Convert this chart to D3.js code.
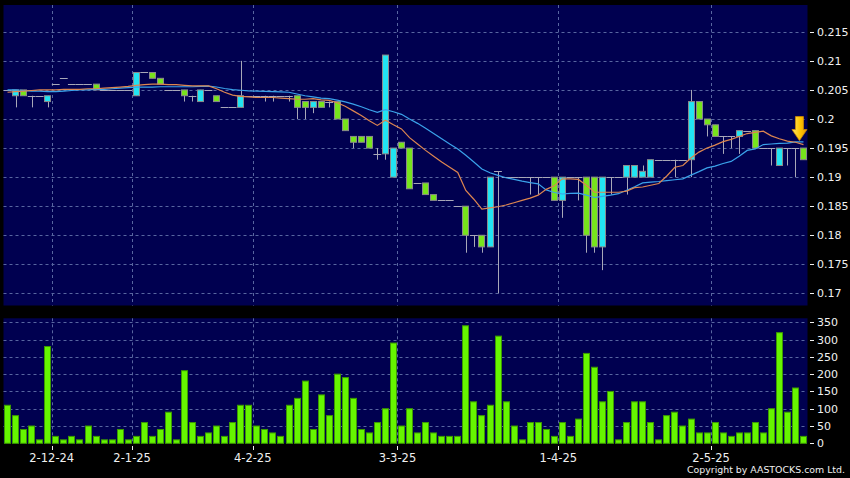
<!DOCTYPE html>
<html><head><meta charset="utf-8">
<script src="https://cdn.jsdelivr.net/npm/d3@7"></script>
<style>html,body{margin:0;padding:0;background:#000;}svg{display:block;}</style>
</head><body>
<svg id="c" width="850" height="478"></svg>
<script>
// ---- data ----
const tickIdx = [5, 15, 30, 48, 68, 87];
const tickLabels = ["2-12-24", "2-1-25", "4-2-25", "3-3-25", "1-4-25", "2-5-25"];
const priceTicks = [0.17, 0.175, 0.18, 0.185, 0.19, 0.195, 0.2, 0.205, 0.21, 0.215];
const priceTickLabels = ["0.17", "0.175", "0.18", "0.185", "0.19", "0.195", "0.2", "0.205", "0.21", "0.215"];
const volTicks = [0, 50, 100, 150, 200, 250, 300, 350];

const open = [0.205,0.204,0.205,0.204,0.204,0.203,0.206,0.207,0.206,0.206,
0.206,0.206,0.205,0.205,0.205,0.205,0.204,0.208,0.208,0.207,
0.205,0.205,0.205,0.204,0.203,0.205,0.204,0.202,0.202,0.202,
0.204,0.204,0.204,0.204,0.204,0.204,0.204,0.203,0.202,0.203,
0.203,0.203,0.200,0.197,0.197,0.197,0.194,0.194,0.190,0.196,
0.195,0.189,0.189,0.187,0.186,0.186,0.185,0.185,0.180,0.180,
0.178,0.191,0.190,0.190,0.190,0.190,0.190,0.190,0.190,0.186,
0.190,0.190,0.190,0.190,0.178,0.190,0.190,0.190,0.190,0.190,
0.190,0.193,0.193,0.193,0.193,0.193,0.203,0.200,0.199,0.197,
0.197,0.197,0.198,0.198,0.195,0.195,0.192,0.195,0.195,0.195];
const high = [0.205,0.205,0.205,0.204,0.204,0.204,0.206,0.207,0.206,0.206,
0.206,0.206,0.205,0.205,0.205,0.205,0.208,0.208,0.208,0.207,
0.205,0.205,0.205,0.204,0.205,0.205,0.204,0.202,0.202,0.210,
0.204,0.204,0.204,0.204,0.204,0.204,0.204,0.203,0.203,0.203,
0.203,0.203,0.200,0.197,0.197,0.197,0.195,0.211,0.195,0.196,
0.195,0.189,0.189,0.187,0.186,0.186,0.185,0.185,0.180,0.180,
0.190,0.191,0.190,0.190,0.190,0.190,0.190,0.190,0.190,0.190,
0.190,0.190,0.190,0.190,0.190,0.190,0.190,0.192,0.192,0.192,
0.193,0.193,0.193,0.193,0.193,0.205,0.203,0.200,0.199,0.197,
0.197,0.198,0.198,0.198,0.195,0.195,0.195,0.195,0.195,0.195];
const low = [0.205,0.202,0.204,0.202,0.204,0.202,0.206,0.207,0.206,0.206,
0.206,0.205,0.205,0.205,0.205,0.205,0.204,0.208,0.207,0.206,
0.205,0.205,0.203,0.203,0.203,0.205,0.203,0.202,0.202,0.202,
0.204,0.204,0.203,0.203,0.204,0.203,0.200,0.200,0.201,0.202,
0.202,0.200,0.198,0.195,0.196,0.195,0.193,0.193,0.190,0.195,
0.188,0.189,0.187,0.186,0.186,0.186,0.185,0.177,0.178,0.177,
0.178,0.170,0.190,0.190,0.190,0.187,0.187,0.190,0.186,0.183,
0.190,0.186,0.177,0.177,0.174,0.187,0.190,0.187,0.190,0.190,
0.190,0.193,0.193,0.190,0.193,0.190,0.200,0.197,0.197,0.194,
0.195,0.194,0.198,0.195,0.195,0.192,0.192,0.192,0.190,0.193];
const close = [0.205,0.205,0.204,0.204,0.204,0.204,0.206,0.207,0.206,0.206,
0.206,0.205,0.205,0.205,0.205,0.205,0.208,0.208,0.207,0.206,
0.205,0.205,0.204,0.204,0.205,0.205,0.203,0.202,0.202,0.204,
0.204,0.204,0.204,0.204,0.204,0.204,0.202,0.202,0.203,0.202,
0.203,0.200,0.198,0.196,0.196,0.195,0.194,0.211,0.195,0.195,
0.188,0.189,0.187,0.186,0.186,0.186,0.185,0.180,0.180,0.178,
0.190,0.191,0.190,0.190,0.190,0.190,0.190,0.190,0.186,0.190,
0.190,0.190,0.180,0.178,0.190,0.190,0.190,0.192,0.192,0.191,
0.193,0.193,0.193,0.193,0.193,0.203,0.200,0.199,0.197,0.197,
0.197,0.198,0.198,0.195,0.195,0.195,0.195,0.195,0.195,0.193];
const volume = [110,80,40,50,10,280,20,10,20,10,
50,20,10,10,40,10,20,60,20,40,
90,10,210,60,20,30,50,20,60,110,
110,50,40,30,20,110,130,180,40,140,
80,200,190,130,40,30,60,100,290,50,
100,30,60,30,20,20,20,340,120,80,
110,310,120,50,10,60,60,40,20,60,
20,70,260,220,120,150,10,60,120,120,
60,10,80,90,50,70,30,30,60,30,
20,30,30,60,30,100,320,90,160,20];
const ma10 = [0.2046,0.2047,0.2048,0.2049,0.2050,0.2050,0.2050,0.2051,0.2051,0.2051,
0.2052,0.2052,0.2053,0.2054,0.2055,0.2056,0.2058,0.2059,0.2060,0.2060,
0.2059,0.2059,0.2058,0.2057,0.2057,0.2057,0.2052,0.2046,0.2041,0.2039,
0.2038,0.2037,0.2037,0.2037,0.2036,0.2035,0.2034,0.2034,0.2035,0.2033,
0.2032,0.2028,0.2022,0.2014,0.2006,0.1997,0.1989,0.1998,0.1990,0.1983,
0.1968,0.1957,0.1946,0.1936,0.1926,0.1917,0.1908,0.1877,0.1862,0.1845,
0.1847,0.1849,0.1852,0.1856,0.1860,0.1864,0.1869,0.1879,0.1885,0.1897,
0.1897,0.1896,0.1886,0.1874,0.1874,0.1874,0.1874,0.1876,0.1882,0.1883,
0.1886,0.1889,0.1902,0.1917,0.1920,0.1933,0.1943,0.1950,0.1955,0.1961,
0.1965,0.1970,0.1975,0.1977,0.1979,0.1971,0.1966,0.1962,0.1960,0.1956];
const ma20 = [0.2050,0.2050,0.2049,0.2048,0.2048,0.2047,0.2047,0.2048,0.2049,0.2050,
0.2050,0.2051,0.2051,0.2052,0.2053,0.2054,0.2055,0.2055,0.2055,0.20555,
0.20555,0.20555,0.20555,0.20555,0.2056,0.20565,0.2055,0.20525,0.20505,0.20495,
0.20485,0.2048,0.20475,0.2047,0.20465,0.2046,0.2043,0.2040,0.2038,0.2036,
0.2035,0.20325,0.20295,0.20255,0.2021,0.2016,0.20115,0.2016,0.20125,0.2008,
0.2000,0.19925,0.1984,0.1975,0.1966,0.1957,0.19485,0.19375,0.1926,0.1914,
0.19075,0.1903,0.1899,0.1896,0.1893,0.18905,0.18885,0.1878,0.18735,0.1871,
0.1872,0.18725,0.1869,0.1865,0.1867,0.1869,0.18715,0.18775,0.18835,0.1890,
0.18915,0.18925,0.1894,0.18955,0.1897,0.19035,0.19095,0.1916,0.1919,0.19235,
0.1927,0.1936,0.1946,0.19485,0.1956,0.1957,0.1958,0.19585,0.19605,0.19605];

// ---- layout ----
const n = close.length;
const svg = d3.select("#c");
const L = 3.5, R = 807.5;
const mainTop = 5, mainBot = 305.5, volTop = 318.3, volBot = 443.3;
const FONT = "DejaVu Sans, sans-serif";

const x = d3.scaleBand().domain(d3.range(n)).range([L, R]).paddingInner(0.15).paddingOuter(0.075);
const bw = x.bandwidth(), step = x.step();
const y = d3.scaleLinear().domain([0.17, 0.215]).range([293.4, 31.8]);
const yv = d3.scaleLinear().domain([0, 350]).range([volBot, 322.3]);
const gridX = i => x(i) + bw + (step - bw) / 2;

svg.append("rect").attr("width", 850).attr("height", 478).attr("fill", "#000");
svg.append("rect").attr("x", L).attr("y", mainTop).attr("width", R - L).attr("height", mainBot - mainTop).attr("fill", "#000050");
svg.append("rect").attr("x", L).attr("y", volTop).attr("width", R - L).attr("height", volBot - volTop).attr("fill", "#000050");

const gridColor = "#5866a0";
// horizontal grids
svg.append("g").selectAll("line").data(priceTicks).join("line")
  .attr("x1", L).attr("x2", R).attr("y1", d => Math.round(y(d)) + 0.5).attr("y2", d => Math.round(y(d)) + 0.5)
  .attr("stroke", gridColor).attr("stroke-dasharray", "3,3");
svg.append("g").selectAll("line").data(volTicks.filter(v => v > 0)).join("line")
  .attr("x1", L).attr("x2", R).attr("y1", d => Math.round(yv(d)) + 0.5).attr("y2", d => Math.round(yv(d)) + 0.5)
  .attr("stroke", gridColor).attr("stroke-dasharray", "3,3");
// vertical grids
svg.append("g").selectAll("line").data(tickIdx).join("line")
  .attr("x1", d => Math.round(gridX(d)) + 0.5).attr("x2", d => Math.round(gridX(d)) + 0.5)
  .attr("y1", mainTop).attr("y2", mainBot).attr("stroke", gridColor).attr("stroke-dasharray", "3,3");
svg.append("g").selectAll("line").data(tickIdx).join("line")
  .attr("x1", d => Math.round(gridX(d)) + 0.5).attr("x2", d => Math.round(gridX(d)) + 0.5)
  .attr("y1", volTop).attr("y2", volBot).attr("stroke", gridColor).attr("stroke-dasharray", "3,3");

// ---- candles ----
const UP = "#22e4f2", DOWN = "#77e41c", WICK = "#a8a8b8", EDGE = "#8a8a8a";
const idx = d3.range(n);
const cg = svg.append("g");
// wicks
cg.selectAll("line.w").data(idx.filter(i => high[i] > low[i])).join("line").attr("class", "w")
  .attr("x1", i => Math.round(x(i) + bw / 2) + 0.5).attr("x2", i => Math.round(x(i) + bw / 2) + 0.5)
  .attr("y1", i => y(high[i])).attr("y2", i => y(low[i]))
  .attr("stroke", WICK).attr("stroke-width", 1);
// doji lines
cg.selectAll("line.d").data(idx.filter(i => open[i] === close[i])).join("line").attr("class", "d")
  .attr("x1", i => x(i) - 0.5).attr("x2", i => x(i) + bw + 0.5)
  .attr("y1", i => Math.round(y(close[i])) + 0.5).attr("y2", i => Math.round(y(close[i])) + 0.5)
  .attr("stroke", WICK).attr("stroke-width", 1);
// bodies
cg.selectAll("rect").data(idx.filter(i => open[i] !== close[i])).join("rect")
  .attr("x", i => Math.round(x(i)) + 0.5).attr("width", Math.round(bw) - 1)
  .attr("y", i => y(Math.max(open[i], close[i])))
  .attr("height", i => Math.abs(y(open[i]) - y(close[i])))
  .attr("fill", i => close[i] > open[i] ? UP : DOWN)
  .attr("stroke", EDGE).attr("stroke-width", 1);

// ---- moving averages ----
const line = (arr) => d3.line().x((d, i) => x(i) + bw / 2).y(d => y(d))(arr);
svg.append("path").attr("d", line(ma20)).attr("fill", "none").attr("stroke", "#3aa2ea").attr("stroke-width", 1.2);
svg.append("path").attr("d", line(ma10)).attr("fill", "none").attr("stroke", "#dd8650").attr("stroke-width", 1.2);

// ---- arrow marker on last bar ----
const ax = gridX(n - 2), atip = y(ma10[n - 1]) - 4;
const defs = svg.append("defs");
const grad = defs.append("linearGradient").attr("id", "ag").attr("x1", 0).attr("x2", 1).attr("y1", 0).attr("y2", 0);
grad.append("stop").attr("offset", "0%").attr("stop-color", "#ffe766");
grad.append("stop").attr("offset", "55%").attr("stop-color", "#ffc400");
grad.append("stop").attr("offset", "100%").attr("stop-color", "#e79a00");
svg.append("path")
  .attr("d", `M${ax - 4},${atip - 24} L${ax + 4},${atip - 24} L${ax + 4},${atip - 11} L${ax + 7.5},${atip - 11} L${ax},${atip} L${ax - 7.5},${atip - 11} L${ax - 4},${atip - 11} Z`)
  .attr("fill", "url(#ag)").attr("stroke", "#d08a00").attr("stroke-width", 0.8);

// ---- volume ----
svg.append("g").selectAll("rect").data(idx).join("rect")
  .attr("x", i => Math.round(x(i)) + 0.5).attr("width", Math.round(bw) - 1)
  .attr("y", i => yv(volume[i])).attr("height", i => volBot - yv(volume[i]))
  .attr("fill", "#66f500").attr("stroke", "#3c9a00").attr("stroke-width", 1);

// ---- axes text ----
const txt = "#f0f0f0";
const ya = svg.append("g");
ya.selectAll("line").data(priceTicks).join("line")
  .attr("x1", 810).attr("x2", 814).attr("y1", d => Math.round(y(d)) + 0.5).attr("y2", d => Math.round(y(d)) + 0.5)
  .attr("stroke", txt);
ya.selectAll("text").data(priceTicks).join("text")
  .attr("x", 817).attr("y", d => y(d) + 4).text((d, i) => priceTickLabels[i])
  .attr("fill", txt).attr("font-family", FONT).attr("font-size", 11);
const va = svg.append("g");
va.selectAll("line").data(volTicks).join("line")
  .attr("x1", 810).attr("x2", 814).attr("y1", d => Math.round(yv(d)) + 0.5).attr("y2", d => Math.round(yv(d)) + 0.5)
  .attr("stroke", txt);
va.selectAll("text").data(volTicks).join("text")
  .attr("x", 817).attr("y", d => yv(d) + 4).text(d => d)
  .attr("fill", txt).attr("font-family", FONT).attr("font-size", 11);
const xa = svg.append("g");
xa.selectAll("line").data(tickIdx).join("line")
  .attr("x1", d => Math.round(gridX(d)) + 0.5).attr("x2", d => Math.round(gridX(d)) + 0.5)
  .attr("y1", 446).attr("y2", 450).attr("stroke", txt);
xa.selectAll("text").data(tickIdx).join("text")
  .attr("x", d => gridX(d)).attr("y", 462).attr("text-anchor", "middle").text((d, i) => tickLabels[i])
  .attr("fill", txt).attr("font-family", FONT).attr("font-size", 11.5);
svg.append("text").attr("x", 845).attr("y", 473).attr("text-anchor", "end")
  .text("Copyright by AASTOCKS.com Ltd.").attr("fill", txt).attr("font-family", FONT).attr("font-size", 9.5)
  .attr("textLength", 158).attr("lengthAdjust", "spacingAndGlyphs");
</script>
</body></html>
